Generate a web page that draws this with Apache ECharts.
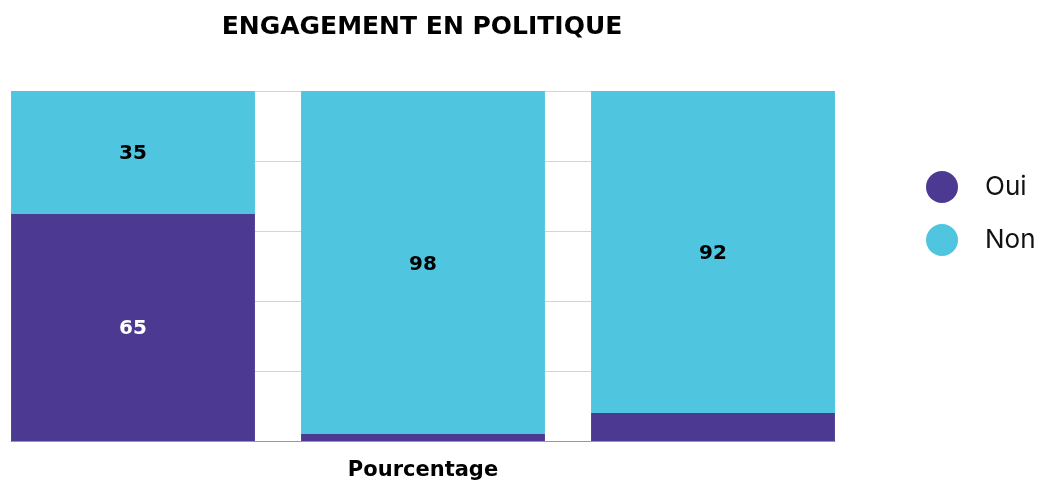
<!DOCTYPE html>
<html>
<head>
<meta charset="utf-8">
<script src="https://cdn.jsdelivr.net/npm/echarts@6/dist/echarts.min.js"></script>
<style>
  html, body { margin: 0; padding: 0; background: #fff; }
  #chart { width: 1043px; height: 484px; }
</style>
</head>
<body>
<div id="chart"></div>
<script>
// données
const categories = ['Groupe 1', 'Groupe 2', 'Groupe 3']
const oui = [65, 2, 8]
const non = [35, 98, 92]
const seriesNames = ['Oui', 'Non']

const boldFont = '"DejaVu Sans", sans-serif'
const font = 'Inter, "Noto Sans", sans-serif'

const myChart = echarts.init(document.getElementById('chart'))

const option = {
  title: {
    text: 'ENGAGEMENT EN POLITIQUE',
    left: 417,
    textAlign: 'center',
    top: 10,
    textStyle: { fontFamily: boldFont, fontSize: 25, fontWeight: 'bold', color: '#000' }
  },
  legend: {
    data: seriesNames,
    orient: 'vertical',
    left: 921,
    top: 166,
    icon: 'circle',
    itemWidth: 32,
    itemHeight: 32,
    itemGap: 21,
    textStyle: { fontFamily: font, fontSize: 26, color: '#111', padding: [0, 0, 0, 22] }
  },
  grid: [
    { left: -12, top: 91, width: 870, height: 350, outerBoundsMode: 'none', containLabel: false },
    { left: 11, top: 91, width: 824, height: 350, outerBoundsMode: 'none', containLabel: false }
  ],
  xAxis: [
    {
      type: 'category',
      gridIndex: 0,
      data: categories,
      axisLine: { show: false },
      axisTick: { show: false },
      axisLabel: { show: false },
      name: 'Pourcentage',
      nameLocation: 'middle',
      nameGap: 19,
      nameTextStyle: { fontFamily: boldFont, fontSize: 21, fontWeight: 'bold', color: '#000' }
    },
    {
      type: 'value',
      gridIndex: 1,
      min: 0,
      max: 1,
      axisLine: { show: true, lineStyle: { color: '#999', width: 1 } },
      axisTick: { show: false },
      axisLabel: { show: false },
      splitLine: { show: false }
    }
  ],
  yAxis: [
    {
      type: 'value',
      gridIndex: 0,
      min: 0,
      max: 100,
      show: false,
      splitLine: { show: false }
    },
    {
      type: 'value',
      gridIndex: 1,
      min: 0,
      max: 100,
      interval: 20,
      axisLine: { show: false },
      axisTick: { show: false },
      axisLabel: { show: false },
      splitLine: { lineStyle: { color: '#d4d4d4', width: 1 } }
    }
  ],
  series: [
    {
      name: 'Oui',
      type: 'bar',
      stack: 'total',
      xAxisIndex: 0,
      yAxisIndex: 0,
      barCategoryGap: '15.9%',
      itemStyle: { color: '#4C3A92' },
      label: {
        show: true,
        position: 'inside',
        offset: [0, 2],
        color: '#fff',
        fontFamily: boldFont,
        fontSize: 20,
        fontWeight: 'bold',
        formatter: (p) => (p.value >= 10 ? p.value : '')
      },
      data: oui
    },
    {
      name: 'Non',
      type: 'bar',
      stack: 'total',
      xAxisIndex: 0,
      yAxisIndex: 0,
      barCategoryGap: '15.9%',
      itemStyle: { color: '#4FC5DF' },
      label: {
        show: true,
        position: 'inside',
        offset: [0, 2],
        color: '#000',
        fontFamily: boldFont,
        fontSize: 20,
        fontWeight: 'bold'
      },
      data: non
    }
  ]
}

option && myChart.setOption(option)
</script>
</body>
</html>
